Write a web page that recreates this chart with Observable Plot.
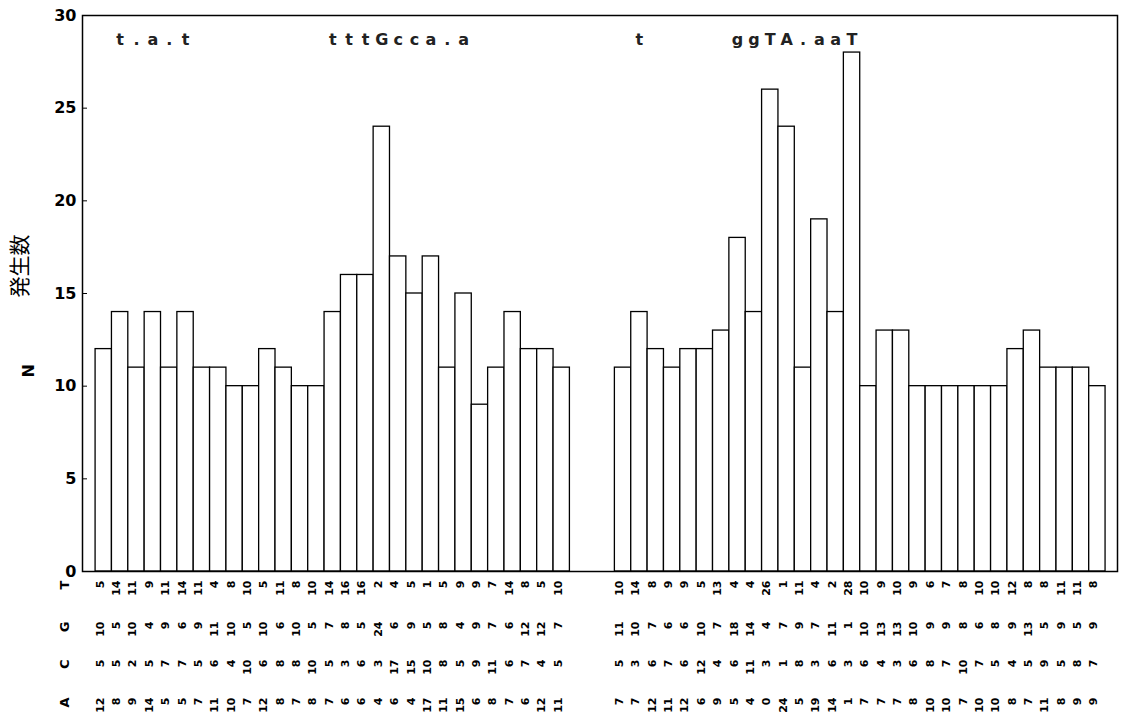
<!DOCTYPE html>
<html><head><meta charset="utf-8">
<script src="https://cdn.jsdelivr.net/npm/d3@7"></script>
<script src="https://cdn.jsdelivr.net/npm/@observablehq/plot@0.6"></script>
<style>body{margin:0;background:#fff;} svg{display:block}</style>
</head><body><div id="chart"></div>
<script>
// Left block (29 positions)
const leftN = [12,14,11,14,11,14,11,11,10,10,12,11,10,10,14,16,16,24,17,15,17,11,15,9,11,14,12,12,11];
const leftT = [5,14,11,9,11,14,11,4,8,10,5,11,8,10,14,16,16,2,4,5,1,5,9,9,7,14,8,5,10];
const leftG = [10,5,10,4,9,6,9,11,10,5,10,6,10,5,7,8,5,24,6,9,5,8,4,9,7,6,12,12,7];
const leftC = [5,5,2,5,7,7,5,6,4,10,6,8,8,10,5,3,6,3,17,15,10,8,5,9,11,6,7,4,5];
const leftA = [12,8,9,14,5,5,7,11,10,7,12,8,7,8,7,6,6,4,6,4,17,11,15,6,8,7,6,12,11];
const leftMotif = " t.a.t        tttGcca.a      ";
// Right block (30 positions)
const rightN = [11,14,12,11,12,12,13,18,14,26,24,11,19,14,28,10,13,13,10,10,10,10,10,10,12,13,11,11,11,10];
const rightT = [10,14,8,9,9,5,13,4,4,26,1,11,4,2,28,10,9,10,9,6,7,8,10,10,12,8,8,11,11,8];
const rightG = [11,10,7,6,6,10,7,18,14,4,7,9,7,11,1,10,13,13,10,9,9,8,6,8,9,13,5,9,5,9];
const rightC = [5,3,6,7,6,12,4,6,11,3,1,8,3,6,3,6,4,3,6,8,7,10,7,5,4,5,9,5,8,7];
const rightA = [7,7,12,11,12,6,9,5,4,0,24,5,19,14,1,7,7,7,8,10,10,7,10,10,8,7,11,8,9,9];
const rightMotif = " t     ggTA.aaT               ";
const bases = ["T", "G", "C", "A"];
const yTicks = [0, 5, 10, 15, 20, 25, 30];

const gap = 2.75;
const bars = [];
leftN.forEach((n, i) => bars.push({pos: i, n, T: leftT[i], G: leftG[i], C: leftC[i], A: leftA[i], motif: leftMotif[i]}));
rightN.forEach((n, j) => bars.push({pos: leftN.length + gap + j, n, T: rightT[j], G: rightG[j], C: rightC[j], A: rightA[j], motif: rightMotif[j]}));
const lastPos = leftN.length + gap + rightN.length;

const rowDy = {T: 9, G: 50, C: 88, A: 126};

const marks = [
  Plot.rectY(bars, {x1: "pos", x2: d => d.pos + 1, y: "n", fill: "white", stroke: "black", strokeWidth: 1.3}),
  Plot.frame({stroke: "black", strokeWidth: 1.5}),
  Plot.axisY({ticks: yTicks, tickSize: -5, tickPadding: 11, fontSize: 16, fontWeight: "bold", label: null}),
  Plot.text(bars.filter(d => d.motif.trim() !== ""), {x: d => d.pos + 0.5, text: "motif", frameAnchor: "top", dy: 18, fontSize: 16, fontWeight: "bold", fill: "#222"}),
  Plot.text(["N"], {text: d => d, frameAnchor: "left", dx: -54, dy: 84, rotate: -90, fontSize: 16, fontWeight: "bold"}),
  Plot.text(["発生数"], {text: d => d, frameAnchor: "left", dx: -62, dy: 4, rotate: -90, fontSize: 21, fontFamily: "Noto Sans CJK JP"})
];
for (const b of bases) {
  marks.push(Plot.text(bars, {x: d => d.pos + 0.5, text: d => String(d[b]), frameAnchor: "bottom", dy: rowDy[b], rotate: -90, textAnchor: "end", fontSize: 11, fontWeight: "bold"}));
  marks.push(Plot.text([b], {text: d => d, frameAnchor: "bottom-left", dx: -14, dy: rowDy[b], rotate: -90, textAnchor: "end", fontSize: 13, fontWeight: "bold"}));
}

const chart = Plot.plot({
  width: 1122,
  height: 720,
  marginTop: 15,
  marginBottom: 149,
  marginLeft: 82,
  marginRight: 5,
  style: {fontFamily: "DejaVu Sans", fontSize: "11px", color: "black", background: "white"},
  x: {domain: [-0.8, lastPos + 0.73], axis: null},
  y: {domain: [0, 30]},
  marks
});
document.getElementById("chart").appendChild(chart);
</script>
</body></html>
